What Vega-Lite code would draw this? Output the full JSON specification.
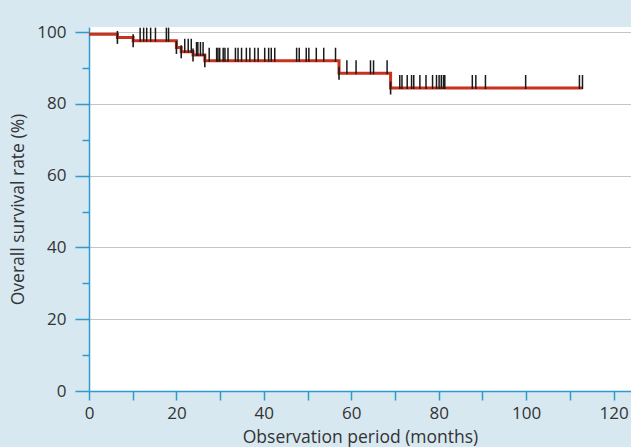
{
  "$schema": "https://vega.github.io/schema/vega-lite/v6.json",
  "width": 542,
  "height": 364,
  "autosize": {"type": "none"},
  "padding": {"left": 89, "top": 27, "right": 0, "bottom": 56},
  "background": "#d8e8f1",
  "config": {
    "font": "Open Sans",
    "view": {"fill": "#ffffff", "stroke": null},
    "axis": {
      "domainColor": "#2f9acb",
      "tickColor": "#2f9acb",
      "domainWidth": 1.5,
      "tickWidth": 1.5,
      "labelColor": "#333333",
      "titleColor": "#333333",
      "labelFontSize": 17,
      "titleFontSize": 17.5,
      "titleFontWeight": "normal",
      "gridColor": "#c4c4c4",
      "gridWidth": 1
    }
  },
  "datasets": {
    "curve": [
      {"t": 0, "s": 99.4},
      {"t": 6.5, "s": 98.5},
      {"t": 10.1, "s": 97.6},
      {"t": 20.0, "s": 95.7},
      {"t": 21.1, "s": 94.5},
      {"t": 23.8, "s": 93.6},
      {"t": 26.5, "s": 92.0},
      {"t": 57.2, "s": 88.5},
      {"t": 69.0, "s": 84.4},
      {"t": 112.9, "s": 84.4}
    ],
    "event": [
      {"t": 6.5, "s": 98.5},
      {"t": 10.1, "s": 97.6},
      {"t": 20.0, "s": 95.7},
      {"t": 21.1, "s": 94.5},
      {"t": 23.8, "s": 93.6},
      {"t": 26.5, "s": 92.0},
      {"t": 57.2, "s": 88.5},
      {"t": 69.0, "s": 84.4}
    ],
    "censor": [
      {"t": 11.7, "s": 97.6}, {"t": 12.5, "s": 97.6}, {"t": 13.2, "s": 97.6}, {"t": 14.1, "s": 97.6},
      {"t": 15.2, "s": 97.6}, {"t": 17.7, "s": 97.6}, {"t": 18.2, "s": 97.6},
      {"t": 21.9, "s": 94.5}, {"t": 22.7, "s": 94.5}, {"t": 23.4, "s": 94.5},
      {"t": 24.6, "s": 93.6}, {"t": 24.9, "s": 93.6}, {"t": 25.5, "s": 93.6}, {"t": 26.1, "s": 93.6},
      {"t": 27.5, "s": 92.0}, {"t": 29.2, "s": 92.0}, {"t": 29.5, "s": 92.0}, {"t": 29.9, "s": 92.0},
      {"t": 30.7, "s": 92.0}, {"t": 31.1, "s": 92.0}, {"t": 31.8, "s": 92.0}, {"t": 33.5, "s": 92.0},
      {"t": 34.1, "s": 92.0}, {"t": 34.9, "s": 92.0}, {"t": 36.0, "s": 92.0}, {"t": 36.8, "s": 92.0},
      {"t": 37.9, "s": 92.0}, {"t": 38.7, "s": 92.0}, {"t": 40.2, "s": 92.0}, {"t": 41.1, "s": 92.0},
      {"t": 41.7, "s": 92.0}, {"t": 42.5, "s": 92.0}, {"t": 47.5, "s": 92.0}, {"t": 48.1, "s": 92.0},
      {"t": 49.7, "s": 92.0}, {"t": 50.3, "s": 92.0}, {"t": 52.0, "s": 92.0}, {"t": 53.7, "s": 92.0},
      {"t": 56.4, "s": 92.0},
      {"t": 59.0, "s": 88.5}, {"t": 61.1, "s": 88.5}, {"t": 64.4, "s": 88.5}, {"t": 65.1, "s": 88.5},
      {"t": 68.2, "s": 88.5},
      {"t": 71.1, "s": 84.4}, {"t": 71.6, "s": 84.4}, {"t": 72.8, "s": 84.4}, {"t": 73.8, "s": 84.4},
      {"t": 74.3, "s": 84.4}, {"t": 75.7, "s": 84.4}, {"t": 77.1, "s": 84.4}, {"t": 78.6, "s": 84.4},
      {"t": 79.5, "s": 84.4}, {"t": 80.1, "s": 84.4}, {"t": 80.6, "s": 84.4}, {"t": 81.1, "s": 84.4},
      {"t": 81.4, "s": 84.4}, {"t": 87.7, "s": 84.4}, {"t": 88.5, "s": 84.4}, {"t": 90.7, "s": 84.4},
      {"t": 99.9, "s": 84.4}, {"t": 112.2, "s": 84.4}, {"t": 112.9, "s": 84.4}
    ]
  },
  "encoding": {
    "x": {
      "field": "t", "type": "quantitative",
      "scale": {"domain": [0, 124], "nice": false, "zero": false},
      "axis": {
        "values": [0, 10, 20, 30, 40, 50, 60, 70, 80, 90, 100, 110, 120],
        "labelExpr": "datum.value % 20 === 0 ? datum.label : ''",
        "tickSize": 9,
        "labelPadding": 5,
        "grid": false,
        "title": "Observation period (months)",
        "titlePadding": 7,
        "labelFlush": false,
        "labelOverlap": false
      }
    },
    "y": {
      "field": "s", "type": "quantitative",
      "scale": {"domain": [0, 101.4], "nice": false},
      "axis": {
        "values": [0, 10, 20, 30, 40, 50, 60, 70, 80, 90, 100],
        "labelExpr": "datum.value % 20 === 0 ? datum.label : ''",
        "tickSize": {"condition": {"test": "datum.value % 20 === 0", "value": 14}, "value": 7},
        "gridOpacity": {"condition": {"test": "datum.value % 20 === 0 && datum.value > 0", "value": 1}, "value": 0},
        "grid": true,
        "labelPadding": 9,
        "title": "Overall survival rate (%)",
        "titlePadding": 9,
        "labelFlush": false,
        "labelOverlap": false
      }
    }
  },
  "layer": [
    {
      "data": {"name": "curve"},
      "mark": {"type": "line", "interpolate": "step-after", "color": "#c8321e", "strokeWidth": 3}
    },
    {
      "data": {"name": "event"},
      "mark": {"type": "point", "shape": "M0,-1L0,1", "size": 169, "filled": false, "stroke": "#1a1a1a", "strokeWidth": 1.6, "opacity": 1}
    },
    {
      "data": {"name": "censor"},
      "mark": {"type": "point", "shape": "M0,-1L0,1", "size": 196, "yOffset": -6, "filled": false, "stroke": "#1a1a1a", "strokeWidth": 1.5, "opacity": 1}
    }
  ]
}
